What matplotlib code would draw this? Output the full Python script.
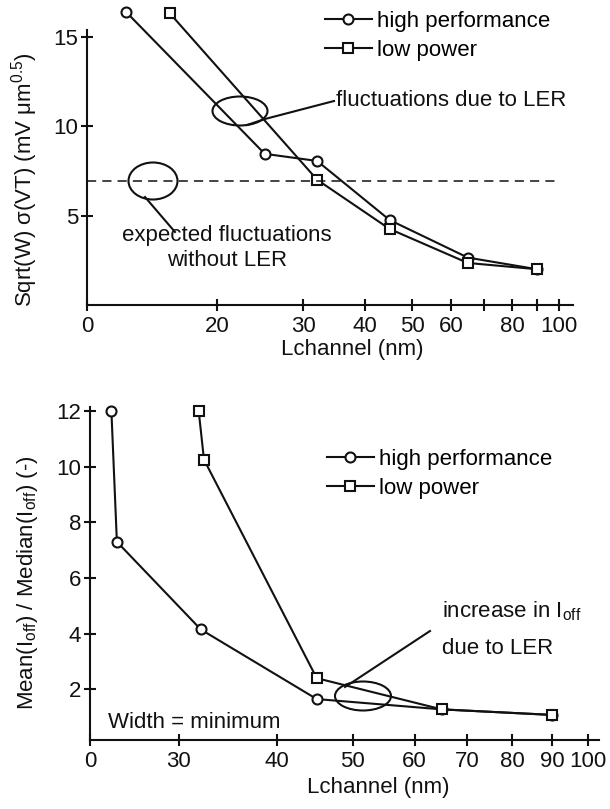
import matplotlib
matplotlib.use("Agg")
import matplotlib.pyplot as plt
from matplotlib.patches import Ellipse
from matplotlib.lines import Line2D
from matplotlib.ticker import NullLocator

plt.rcParams['font.family'] = ['Liberation Sans', 'DejaVu Sans']
plt.rcParams['mathtext.fontset'] = 'custom'
plt.rcParams['mathtext.rm'] = 'Liberation Sans'
plt.rcParams['mathtext.it'] = 'Liberation Sans'

# ---- data: threshold-voltage fluctuations ----
hp_L_vt = [13, 25, 32, 45, 65, 90]
hp_vt = [16.4, 8.45, 8.05, 4.75, 2.65, 2.0]
lp_L_vt = [16, 32, 45, 65, 90]
lp_vt = [16.3, 7.0, 4.25, 2.35, 2.0]
vt_no_ler = 6.95

# ---- data: off-current mean/median ratio ----
hp_L_ioff = [24.6, 25, 32, 45, 65, 90]
hp_ioff = [12.0, 7.3, 4.15, 1.65, 1.28, 1.08]
lp_L_ioff = [31.8, 32.3, 45, 65, 90]
lp_ioff = [12.0, 10.25, 2.4, 1.28, 1.08]

top_xticks = [10.85, 20, 30, 40, 50, 60, 70, 80, 90, 100]
top_xlabels = ["0", "20", "30", "40", "50", "60", "", "80", "", "100"]
bot_xticks = [23.1, 30, 40, 50, 60, 70, 80, 90, 100]
bot_xlabels = ["0", "30", "40", "50", "60", "70", "80", "90", "100"]

W, H = 610, 809
fig = plt.figure(figsize=(W / 100, H / 100), dpi=100)
FS = 16
LW = 1.5
INK = '#111111'


def px_box(l, t, r, b):
    return [l / W, 1 - b / H, (r - l) / W, (b - t) / H]


def fig_xy(x, y):
    return (x / W, 1 - y / H)


def style_axes(ax):
    for s in ('top', 'right'):
        ax.spines[s].set_visible(False)
    for s in ('left', 'bottom'):
        ax.spines[s].set_linewidth(LW)
        ax.spines[s].set_color(INK)
    ax.set_xscale('log')
    ax.xaxis.set_minor_locator(NullLocator())
    ax.tick_params(direction='inout', length=8.5, width=LW, labelsize=FS, pad=2,
                   color=INK, labelcolor=INK)
    ax.tick_params(axis='x', pad=4)


def series(ax, x, y, marker, label):
    ax.plot(x, y, color=INK, lw=LW, marker=marker, ms=7.2, mfc='white',
            mec=INK, mew=LW, clip_on=False, label=label)


def legend(ax, left, top):
    return ax.legend(loc='upper left', bbox_to_anchor=fig_xy(left, top),
                     bbox_transform=fig.transFigure, frameon=False, fontsize=FS,
                     handlelength=2.1, handletextpad=0.25, labelspacing=0.35,
                     borderpad=0, borderaxespad=0)


# ================= top panel =================
ax1 = fig.add_axes(px_box(87.3, 30, 572.7, 305))
style_axes(ax1)
series(ax1, hp_L_vt, hp_vt, 'o', 'high performance')
series(ax1, lp_L_vt, lp_vt, 's', 'low power')
ax1.plot([top_xticks[0], 100], [vt_no_ler, vt_no_ler], color=INK, lw=1.1,
         ls=(0, (6, 4)))
ax1.set_xlim(10.85, 106.5)
ax1.set_ylim(0, 15.37)
ax1.set_xticks(top_xticks)
ax1.set_xticklabels(top_xlabels)
ax1.set_yticks([5, 10, 15])
ax1.set_xlabel('Lchannel (nm)', fontsize=FS, color=INK)
ax1.xaxis.set_label_coords((352 - 87.3) / 485.4, (305 - 350) / 275)
ax1.xaxis.label.set_va('center')
ax1.set_ylabel(r'Sqrt(W) σ(VT) (mV μm$^{\mathregular{0.5}}$)', fontsize=FS,
               color=INK)
ax1.yaxis.set_label_coords((25 - 87.3) / 485.4, (305 - 180) / 275)
ax1.yaxis.label.set_va('center')
legend(ax1, 325, 11)

# callouts
fig.add_artist(Ellipse(fig_xy(240, 111), 55 / W, 29 / H, fill=False,
                       lw=LW, ec=INK, transform=fig.transFigure))
fig.add_artist(Line2D([247 / W, 265 / W, 334 / W],
                      [1 - 125 / H, 1 - 119 / H, 1 - 101 / H],
                      lw=LW, color=INK, transform=fig.transFigure))
fig.text(336 / W, 1 - 100 / H, 'fluctuations due to LER', fontsize=FS,
         va='center', ha='left', color=INK)

fig.add_artist(Ellipse(fig_xy(153, 181), 49 / W, 37 / H, fill=False,
                       lw=LW, ec=INK, transform=fig.transFigure))
fig.add_artist(Line2D([145 / W, 175 / W], [1 - 197 / H, 1 - 232 / H],
                      lw=LW, color=INK, transform=fig.transFigure))
fig.text(227 / W, 1 - 248 / H, 'expected fluctuations\nwithout LER', fontsize=FS,
         va='center', ha='center', linespacing=1.3, color=INK)

# ================= bottom panel =================
ax2 = fig.add_axes(px_box(90, 407, 599.3, 740))
style_axes(ax2)
series(ax2, hp_L_ioff, hp_ioff, 'o', 'high performance')
series(ax2, lp_L_ioff, lp_ioff, 's', 'low power')
ax2.set_xlim(23.1, 103.3)
ax2.set_ylim(0.18, 12.14)
ax2.set_xticks(bot_xticks)
ax2.set_xticklabels(bot_xlabels)
ax2.set_yticks([2, 4, 6, 8, 10, 12])
ax2.set_xlabel('Lchannel (nm)', fontsize=FS, color=INK)
ax2.xaxis.set_label_coords((378 - 90) / 509.3, (740 - 788) / 333)
ax2.xaxis.label.set_va('center')
ax2.set_ylabel(r'Mean(I$_{\mathregular{off}}$) / Median(I$_{\mathregular{off}}$) (-)',
               fontsize=FS, color=INK)
ax2.yaxis.set_label_coords((27 - 90) / 509.3, (740 - 583) / 333)
ax2.yaxis.label.set_va('center')
legend(ax2, 327, 449)

fig.add_artist(Ellipse(fig_xy(363, 696), 56 / W, 29 / H, fill=False,
                       lw=LW, ec=INK, transform=fig.transFigure))
fig.add_artist(Line2D([345 / W, 430 / W], [1 - 687 / H, 1 - 631 / H],
                      lw=LW, color=INK, transform=fig.transFigure))
fig.text(442 / W, 1 - 611 / H, r'increase in I$_{\mathregular{off}}$', fontsize=FS,
         va='center', ha='left', color=INK)
fig.text(442 / W, 1 - 649 / H, 'due to LER', fontsize=FS, va='center', ha='left',
         color=INK)
fig.text(108 / W, 1 - 722 / H, 'Width = minimum', fontsize=FS, va='center',
         ha='left', color=INK)

fig.savefig('out.png', dpi=100)
